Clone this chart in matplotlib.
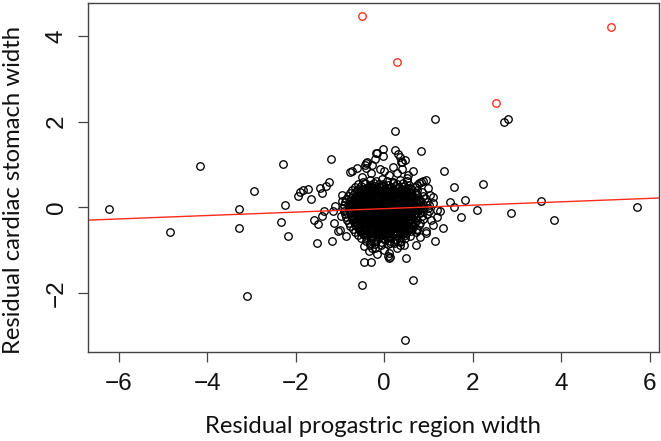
import numpy as np
import matplotlib
matplotlib.use("Agg")
import matplotlib.pyplot as plt

# ---------- data ----------
# dense core of the cloud, typed row by row (top to bottom)
core_x = [
    -0.47, -0.31, -0.18, -0.05, 0.07, 0.21, 0.36, 0.52,
    -0.58, -0.44, -0.33, -0.22, -0.12, -0.02, 0.09, 0.19, 0.30, 0.42, 0.57,
    -0.66, -0.53, -0.41, -0.30, -0.21, -0.12, -0.03, 0.06, 0.15, 0.24, 0.34, 0.45, 0.58, 0.70,
    -0.72, -0.60, -0.49, -0.39, -0.30, -0.22, -0.13, -0.05, 0.04, 0.12, 0.21, 0.30, 0.39, 0.49, 0.60, 0.74,
    -0.78, -0.65, -0.54, -0.45, -0.36, -0.28, -0.19, -0.11, -0.03, 0.05, 0.13, 0.22, 0.31, 0.40, 0.50, 0.61, 0.73, 0.85,
    -0.82, -0.70, -0.59, -0.50, -0.41, -0.33, -0.25, -0.17, -0.09, -0.01, 0.07, 0.15, 0.23, 0.32, 0.41, 0.51, 0.62, 0.74, 0.88,
    -0.86, -0.74, -0.63, -0.54, -0.45, -0.37, -0.29, -0.21, -0.13, -0.05, 0.03, 0.11, 0.19, 0.27, 0.36, 0.45, 0.55, 0.66, 0.78, 0.93,
    -0.88, -0.76, -0.66, -0.57, -0.48, -0.40, -0.32, -0.24, -0.16, -0.08, 0.00, 0.08, 0.16, 0.24, 0.32, 0.41, 0.50, 0.60, 0.71, 0.83, 0.97,
    -0.90, -0.78, -0.68, -0.59, -0.50, -0.42, -0.34, -0.26, -0.18, -0.10, -0.02, 0.06, 0.14, 0.22, 0.30, 0.38, 0.47, 0.56, 0.66, 0.77, 0.89, 1.02,
    -0.92, -0.80, -0.70, -0.61, -0.52, -0.44, -0.36, -0.28, -0.20, -0.12, -0.04, 0.04, 0.12, 0.20, 0.28, 0.36, 0.45, 0.54, 0.64, 0.75, 0.87, 1.00,
    -0.91, -0.79, -0.69, -0.60, -0.51, -0.43, -0.35, -0.27, -0.19, -0.11, -0.03, 0.05, 0.13, 0.21, 0.29, 0.37, 0.46, 0.55, 0.65, 0.76, 0.88, 1.01,
    -0.89, -0.77, -0.67, -0.58, -0.49, -0.41, -0.33, -0.25, -0.17, -0.09, -0.01, 0.07, 0.15, 0.23, 0.31, 0.40, 0.49, 0.59, 0.70, 0.82, 0.96,
    -0.87, -0.75, -0.65, -0.56, -0.47, -0.39, -0.31, -0.23, -0.15, -0.07, 0.01, 0.09, 0.17, 0.25, 0.33, 0.42, 0.51, 0.61, 0.72, 0.85,
    -0.84, -0.72, -0.62, -0.53, -0.45, -0.37, -0.29, -0.21, -0.13, -0.05, 0.03, 0.11, 0.19, 0.27, 0.35, 0.44, 0.53, 0.63, 0.75, 0.88,
    -0.80, -0.69, -0.59, -0.50, -0.42, -0.34, -0.26, -0.18, -0.10, -0.02, 0.06, 0.14, 0.22, 0.30, 0.39, 0.48, 0.58, 0.69, 0.82,
    -0.76, -0.65, -0.55, -0.46, -0.38, -0.30, -0.22, -0.14, -0.06, 0.02, 0.10, 0.18, 0.26, 0.35, 0.44, 0.54, 0.65, 0.78,
    -0.71, -0.60, -0.50, -0.41, -0.33, -0.25, -0.17, -0.09, -0.01, 0.07, 0.15, 0.23, 0.32, 0.41, 0.51, 0.62, 0.74,
    -0.66, -0.54, -0.44, -0.35, -0.27, -0.19, -0.11, -0.03, 0.05, 0.13, 0.21, 0.30, 0.39, 0.49, 0.60, 0.71,
    -0.60, -0.48, -0.38, -0.29, -0.21, -0.13, -0.05, 0.03, 0.11, 0.19, 0.28, 0.37, 0.47, 0.58,
    -0.52, -0.40, -0.30, -0.21, -0.12, -0.03, 0.06, 0.15, 0.25, 0.36, 0.48,
    -0.42, -0.30, -0.19, -0.08, 0.03, 0.14, 0.26, 0.39,
    -0.33, -0.20, -0.06, 0.08, 0.22, 0.35,
]
core_y = [
    0.60, 0.64, 0.61, 0.66, 0.62, 0.59, 0.65, 0.61,
    0.54, 0.56, 0.53, 0.57, 0.54, 0.55, 0.52, 0.56, 0.54, 0.57, 0.53,
    0.47, 0.49, 0.46, 0.48, 0.50, 0.47, 0.49, 0.46, 0.48, 0.50, 0.47, 0.49, 0.46, 0.48,
    0.40, 0.42, 0.41, 0.39, 0.43, 0.40, 0.42, 0.39, 0.41, 0.43, 0.40, 0.42, 0.39, 0.41, 0.43, 0.40,
    0.33, 0.35, 0.34, 0.32, 0.36, 0.33, 0.35, 0.34, 0.32, 0.35, 0.33, 0.36, 0.34, 0.32, 0.35, 0.33, 0.34, 0.36,
    0.26, 0.28, 0.27, 0.25, 0.29, 0.26, 0.28, 0.27, 0.25, 0.28, 0.26, 0.29, 0.27, 0.25, 0.28, 0.26, 0.27, 0.29, 0.26,
    0.19, 0.21, 0.20, 0.18, 0.22, 0.19, 0.21, 0.20, 0.18, 0.21, 0.19, 0.22, 0.20, 0.18, 0.21, 0.19, 0.20, 0.22, 0.19, 0.21,
    0.12, 0.14, 0.13, 0.11, 0.15, 0.12, 0.14, 0.13, 0.11, 0.14, 0.12, 0.15, 0.13, 0.11, 0.14, 0.12, 0.13, 0.15, 0.12, 0.14, 0.12,
    0.05, 0.07, 0.06, 0.04, 0.08, 0.05, 0.07, 0.06, 0.04, 0.07, 0.05, 0.08, 0.06, 0.04, 0.07, 0.05, 0.06, 0.08, 0.05, 0.07, 0.05, 0.06,
    -0.02, 0.00, -0.01, -0.03, 0.01, -0.02, 0.00, -0.01, -0.03, 0.00, -0.02, 0.01, -0.01, -0.03, 0.00, -0.02, -0.01, 0.01, -0.02, 0.00, -0.02, -0.01,
    -0.09, -0.07, -0.08, -0.10, -0.06, -0.09, -0.07, -0.08, -0.10, -0.07, -0.09, -0.06, -0.08, -0.10, -0.07, -0.09, -0.08, -0.06, -0.09, -0.07, -0.09, -0.08,
    -0.16, -0.14, -0.15, -0.17, -0.13, -0.16, -0.14, -0.15, -0.17, -0.14, -0.16, -0.13, -0.15, -0.17, -0.14, -0.16, -0.15, -0.13, -0.16, -0.14, -0.16,
    -0.23, -0.21, -0.22, -0.24, -0.20, -0.23, -0.21, -0.22, -0.24, -0.21, -0.23, -0.20, -0.22, -0.24, -0.21, -0.23, -0.22, -0.20, -0.23, -0.21,
    -0.30, -0.28, -0.29, -0.31, -0.27, -0.30, -0.28, -0.29, -0.31, -0.28, -0.30, -0.27, -0.29, -0.31, -0.28, -0.30, -0.29, -0.27, -0.30, -0.28,
    -0.37, -0.35, -0.36, -0.38, -0.34, -0.37, -0.35, -0.36, -0.38, -0.35, -0.37, -0.34, -0.36, -0.38, -0.35, -0.37, -0.36, -0.34, -0.37,
    -0.44, -0.42, -0.43, -0.45, -0.41, -0.44, -0.42, -0.43, -0.45, -0.42, -0.44, -0.41, -0.43, -0.45, -0.42, -0.44, -0.43, -0.41,
    -0.51, -0.49, -0.50, -0.52, -0.48, -0.51, -0.49, -0.50, -0.52, -0.49, -0.51, -0.48, -0.50, -0.52, -0.49, -0.51, -0.50,
    -0.58, -0.56, -0.57, -0.59, -0.55, -0.58, -0.56, -0.57, -0.59, -0.56, -0.58, -0.55, -0.57, -0.59, -0.56, -0.58,
    -0.65, -0.63, -0.64, -0.66, -0.62, -0.65, -0.63, -0.64, -0.66, -0.63, -0.65, -0.62, -0.64, -0.66,
    -0.72, -0.70, -0.71, -0.73, -0.69, -0.72, -0.70, -0.71, -0.73, -0.70, -0.72,
    -0.79, -0.77, -0.78, -0.80, -0.76, -0.79, -0.77, -0.78,
    -0.87, -0.85, -0.88, -0.86, -0.84, -0.87,
]

# second, offset layer that makes the centre of the cloud solid
inner_x = [
    -0.45, -0.36, -0.26, -0.17, -0.08, 0.02, 0.11, 0.20, 0.29, 0.40, 0.51,
    -0.55, -0.45, -0.35, -0.26, -0.17, -0.09, 0.00, 0.08, 0.17, 0.26, 0.35, 0.44, 0.55,
    -0.62, -0.50, -0.41, -0.32, -0.24, -0.15, -0.07, 0.01, 0.09, 0.18, 0.27, 0.36, 0.46, 0.57,
    -0.66, -0.55, -0.46, -0.37, -0.29, -0.21, -0.13, -0.05, 0.03, 0.11, 0.19, 0.28, 0.37, 0.47, 0.58, 0.68,
    -0.69, -0.58, -0.49, -0.41, -0.33, -0.25, -0.17, -0.09, -0.01, 0.07, 0.15, 0.23, 0.32, 0.41, 0.51, 0.61, 0.72,
    -0.72, -0.61, -0.52, -0.44, -0.36, -0.28, -0.20, -0.12, -0.04, 0.04, 0.12, 0.20, 0.28, 0.37, 0.46, 0.55, 0.65, 0.76,
    -0.74, -0.63, -0.54, -0.46, -0.38, -0.30, -0.22, -0.14, -0.06, 0.02, 0.10, 0.18, 0.26, 0.34, 0.43, 0.52, 0.61, 0.71, 0.82,
    -0.75, -0.64, -0.55, -0.47, -0.39, -0.31, -0.23, -0.15, -0.07, 0.01, 0.09, 0.17, 0.25, 0.33, 0.42, 0.51, 0.60, 0.70, 0.81,
    -0.74, -0.63, -0.54, -0.46, -0.38, -0.30, -0.22, -0.14, -0.06, 0.02, 0.10, 0.18, 0.26, 0.34, 0.43, 0.52, 0.62, 0.73,
    -0.72, -0.61, -0.52, -0.44, -0.36, -0.28, -0.20, -0.12, -0.04, 0.04, 0.12, 0.20, 0.28, 0.37, 0.46, 0.56, 0.67,
    -0.70, -0.59, -0.50, -0.42, -0.34, -0.26, -0.18, -0.10, -0.02, 0.06, 0.14, 0.22, 0.31, 0.40, 0.50, 0.61,
    -0.66, -0.56, -0.47, -0.39, -0.31, -0.23, -0.15, -0.07, 0.01, 0.09, 0.17, 0.25, 0.34, 0.44, 0.55,
    -0.62, -0.52, -0.43, -0.35, -0.27, -0.19, -0.11, -0.03, 0.05, 0.13, 0.21, 0.30, 0.39, 0.49, 0.60,
    -0.57, -0.47, -0.38, -0.30, -0.22, -0.14, -0.06, 0.02, 0.10, 0.18, 0.27, 0.36, 0.46, 0.56,
    -0.52, -0.42, -0.33, -0.25, -0.17, -0.09, -0.01, 0.07, 0.15, 0.24, 0.33, 0.43, 0.53,
    -0.45, -0.35, -0.26, -0.17, -0.08, 0.01, 0.10, 0.19, 0.29, 0.40,
]
inner_y = [
    0.44, 0.46, 0.45, 0.43, 0.46, 0.44, 0.45, 0.43, 0.46, 0.44, 0.45,
    0.37, 0.39, 0.38, 0.36, 0.39, 0.37, 0.38, 0.36, 0.39, 0.37, 0.38, 0.36, 0.39,
    0.30, 0.32, 0.31, 0.29, 0.32, 0.30, 0.31, 0.29, 0.32, 0.30, 0.31, 0.29, 0.32, 0.30,
    0.23, 0.25, 0.24, 0.22, 0.25, 0.23, 0.24, 0.22, 0.25, 0.23, 0.24, 0.22, 0.25, 0.23, 0.24, 0.22,
    0.16, 0.18, 0.17, 0.15, 0.18, 0.16, 0.17, 0.15, 0.18, 0.16, 0.17, 0.15, 0.18, 0.16, 0.17, 0.15, 0.18,
    0.09, 0.11, 0.10, 0.08, 0.11, 0.09, 0.10, 0.08, 0.11, 0.09, 0.10, 0.08, 0.11, 0.09, 0.10, 0.08, 0.11, 0.09,
    0.02, 0.04, 0.03, 0.01, 0.04, 0.02, 0.03, 0.01, 0.04, 0.02, 0.03, 0.01, 0.04, 0.02, 0.03, 0.01, 0.04, 0.02, 0.03,
    -0.05, -0.03, -0.04, -0.06, -0.03, -0.05, -0.04, -0.06, -0.03, -0.05, -0.04, -0.06, -0.03, -0.05, -0.04, -0.06, -0.03, -0.05, -0.04,
    -0.12, -0.10, -0.11, -0.13, -0.10, -0.12, -0.11, -0.13, -0.10, -0.12, -0.11, -0.13, -0.10, -0.12, -0.11, -0.13, -0.10, -0.12,
    -0.19, -0.17, -0.18, -0.20, -0.17, -0.19, -0.18, -0.20, -0.17, -0.19, -0.18, -0.20, -0.17, -0.19, -0.18, -0.20, -0.17,
    -0.26, -0.24, -0.25, -0.27, -0.24, -0.26, -0.25, -0.27, -0.24, -0.26, -0.25, -0.27, -0.24, -0.26, -0.25, -0.27,
    -0.33, -0.31, -0.32, -0.34, -0.31, -0.33, -0.32, -0.34, -0.31, -0.33, -0.32, -0.34, -0.31, -0.33, -0.32,
    -0.40, -0.38, -0.39, -0.41, -0.38, -0.40, -0.39, -0.41, -0.38, -0.40, -0.39, -0.41, -0.38, -0.40, -0.39,
    -0.47, -0.45, -0.46, -0.48, -0.45, -0.47, -0.46, -0.48, -0.45, -0.47, -0.46, -0.48, -0.45, -0.47,
    -0.54, -0.52, -0.53, -0.55, -0.52, -0.54, -0.53, -0.55, -0.52, -0.54, -0.53, -0.55, -0.52,
    -0.61, -0.59, -0.60, -0.62, -0.59, -0.61, -0.60, -0.62, -0.59, -0.61,
]

# sparse points around the cloud and the far ones
halo_x = [
    -1.21, -1.24, -1.31, -1.45, -1.40, -1.73, -1.83, -1.89, -1.94, -1.66,
    -1.11, -1.16, -1.35, -1.40, -1.59, -1.49, -1.13, -1.04, -1.52, -1.17,
    -0.87, -0.99, -0.76, -0.35, -0.32, -0.28, 0.14, 0.36, -0.18, -0.02,
    0.24, 0.31, 0.36, 0.41, 0.47, 0.38, 0.65, 0.40, 0.84, 0.89,
    0.74, 0.94, 0.78, 0.51, -0.40, -0.42, -0.39, -0.43, -0.28, -0.17,
    -0.03, -0.20, -0.73, -0.62, 1.58, 1.35, 0.84, 0.24, 1.15, 2.72,
    2.79, 2.24, 1.83, 1.49, 1.57, 2.10, 1.73, 2.86, 3.55, 3.84,
    5.71, 1.33, 1.15, 0.72, 0.94, 0.74, 0.81, 0.50, 0.66, -0.49,
    0.48, -0.45, -0.29, 0.08, 0.11, 0.10, 0.14, -0.17, 1.20, 1.27,
    1.19, 1.11, 1.04, 1.00, 1.10, 1.05, 1.10, 0.95, 0.00, 0.20,
    -0.30, 0.10, -0.10, 0.30, 0.55, -0.50, -0.95, -0.98, -0.95, -0.20,
    0.00, 0.30, 0.45, -0.45,
    -6.21, -4.84, -4.17, -3.29, -3.29, -3.09, -2.95, -2.28, -2.23, -2.32, -2.17,
]
halo_y = [
    1.14, 0.59, 0.51, 0.46, 0.34, 0.43, 0.40, 0.36, 0.26, 0.19,
    0.04, -0.09, -0.08, -0.20, -0.30, -0.39, -0.37, -0.54, -0.83, -0.78,
    -0.67, -0.53, 0.82, -1.01, -0.84, -0.96, -0.84, -0.80, 1.27, 1.36,
    1.35, 1.24, 1.18, 1.06, 1.10, 1.07, 0.86, 0.89, 0.59, 0.61,
    0.52, 0.64, 0.57, 0.68, 1.03, 0.93, 1.07, 0.99, 0.99, 1.26,
    1.20, 1.14, 0.85, 0.91, 0.47, 0.86, 1.31, 1.78, 2.06, 2.00,
    2.06, 0.54, 0.17, 0.13, 0.00, -0.05, -0.23, -0.14, 0.15, -0.29,
    0.02, -0.48, -0.79, -0.87, -0.55, -0.53, -0.69, -1.18, -1.70, -1.82,
    -3.10, -1.28, -1.27, -1.14, -1.07, -1.19, -1.15, -1.10, -0.06, -0.09,
    -0.23, 0.25, 0.29, 0.45, 0.10, -0.30, -0.40, -0.60, 0.85, 0.95,
    0.80, 0.75, 0.90, 0.80, 0.75, 0.70, 0.30, -0.20, 0.15, -0.95,
    -1.00, -0.95, -0.88, -0.90,
    -0.03, -0.58, 0.96, -0.04, -0.47, -2.06, 0.38, 1.02, 0.06, -0.34, -0.66,
]

# flagged outliers (red)
out_x = [-0.49, 0.30, 2.52, 5.12]
out_y = [4.48, 3.40, 2.43, 4.22]

# regression line
fit_intercept = -0.03
fit_slope = 0.040

xlim = (-6.70, 6.21)
ylim = (-3.37, 4.78)
xticks = [-6, -4, -2, 0, 2, 4, 6]
yticks = [-2, 0, 2, 4]

# ---------- plot ----------
fig = plt.figure(figsize=(6.61, 4.41), dpi=100)
ax = fig.add_axes([0.1327, 0.2025, 0.8640, 0.7914])

pt = dict(linestyle='none', marker='o', mfc='none', ms=5.4, mew=0.95)
ax.plot(core_x, core_y, mec='black', **pt)
ax.plot(inner_x, inner_y, mec='black', **pt)
ax.plot(halo_x, halo_y, mec='black', **pt)
ax.plot(out_x, out_y, mec='#ff2a1a', **pt)
ax.axline((0, fit_intercept), slope=fit_slope, color='#ff2a1a', lw=1.0)

ax.set_xlim(xlim)
ax.set_ylim(ylim)
ax.set_xticks(xticks)
ax.set_yticks(yticks)

for s in ax.spines.values():
    s.set_color('#444444')
    s.set_linewidth(1.0)

tickfont = 'Liberation Sans'
ax.tick_params(axis='both', direction='out', length=7.5, width=0.9,
               color='#444444', labelsize=17.5, labelcolor='#111111')
ax.tick_params(axis='x', pad=8)
ax.tick_params(axis='y', pad=7)
for lab in ax.get_xticklabels():
    lab.set_family(tickfont)
for lab in ax.get_yticklabels():
    lab.set_family(tickfont)
    lab.set_rotation(90)
    lab.set_va('center')

fig.text(373 / 661, 1 - 433.3 / 441, 'Residual progastric region width',
         ha='center', va='baseline', fontsize=17.2, family='Lato', color='#111111')
fig.text(14 / 661, 1 - 190 / 441, 'Residual cardiac stomach width',
         ha='center', va='center', rotation=90, fontsize=17.2, family='Lato', color='#111111')

fig.savefig('out.png', dpi=100)
